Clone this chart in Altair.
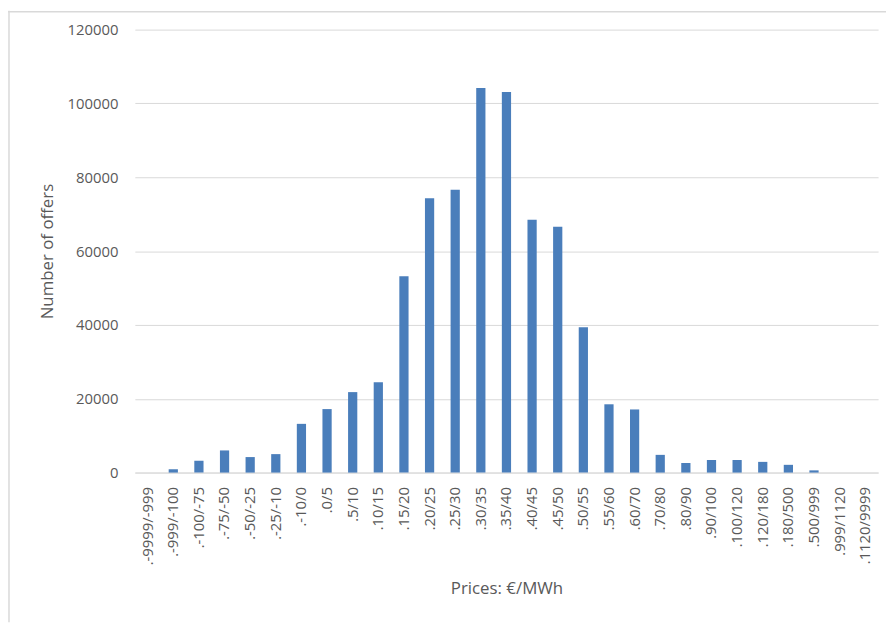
import altair as alt
import pandas as pd

categories = [
    ".-9999/-999", ".-999/-100", ".-100/-75", ".-75/-50", ".-50/-25", ".-25/-10",
    ".-10/0", ".0/5", ".5/10", ".10/15", ".15/20", ".20/25", ".25/30", ".30/35",
    ".35/40", ".40/45", ".45/50", ".50/55", ".55/60", ".60/70", ".70/80", ".80/90",
    ".90/100", ".100/120", ".120/180", ".180/500", ".500/999", ".999/1120", ".1120/9999",
]
offers = [
    0, 900, 3200, 6000, 4200, 5000,
    13200, 17200, 21800, 24500, 53200, 74300, 76600, 104200,
    103100, 68500, 66600, 39400, 18500, 17100, 4800, 2600,
    3400, 3400, 2900, 2100, 600, 0, 0,
]

df = pd.DataFrame({"cat": categories, "val": offers})

FONT = "Open Sans"
TXT = "#595959"
GRID = "#d9d9d9"
W, H = 750, 447
PL, PT, PR, PB = 128, 19, 8, 151

bars = alt.Chart(df).mark_bar(color="#4a7ebb").encode(
    x=alt.X(
        "cat:N",
        sort=categories,
        scale=alt.Scale(paddingInner=0.64, paddingOuter=0.32),
        axis=alt.Axis(
            title="Prices: €/MWh",
            labelAngle=-90,
            labelPadding=14,
            labelFontSize=15,
            labelColor=TXT,
            labelFont=FONT,
            ticks=False,
            domainColor=GRID,
            domainWidth=1,
            titleFont=FONT,
            titleFontSize=17,
            titleFontWeight="normal",
            titleColor=TXT,
            titlePadding=16,
            grid=False,
        ),
    ),
    y=alt.Y(
        "val:Q",
        scale=alt.Scale(domain=[0, 120000]),
        axis=alt.Axis(
            title="Number of offers",
            values=[0, 20000, 40000, 60000, 80000, 100000, 120000],
            format="d",
            labelPadding=17,
            labelFontSize=15,
            labelColor=TXT,
            labelFont=FONT,
            ticks=False,
            domain=False,
            gridColor=GRID,
            gridWidth=1,
            titleFont=FONT,
            titleFontSize=17,
            titleFontWeight="normal",
            titleColor=TXT,
            titlePadding=11,
        ),
    ),
)

border_top = alt.Chart(pd.DataFrame({"k": [0]})).mark_rule(color=GRID, strokeWidth=1.5).encode(
    x=alt.value(-PL), x2=alt.value(W + PR), y=alt.value(-PT + 1)
)
border_left = alt.Chart(pd.DataFrame({"k": [0]})).mark_rule(color=GRID, strokeWidth=1.5).encode(
    x=alt.value(-PL + 1), y=alt.value(-PT), y2=alt.value(H + PB)
)

chart = (
    alt.layer(bars, border_top, border_left)
    .properties(
        width=W,
        height=H,
        autosize=alt.AutoSizeParams(type="none"),
        padding={"left": PL, "top": PT, "right": PR, "bottom": PB},
        background="white",
    )
    .configure_view(stroke=None)
)

chart.save("out.html", embed_options={"renderer": "svg", "actions": False})
